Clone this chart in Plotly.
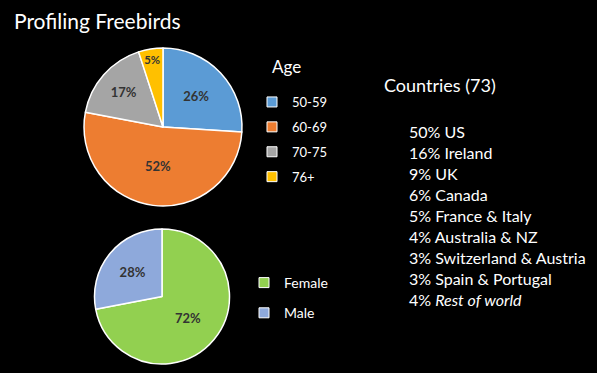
import plotly.graph_objects as go

W, H = 597, 373

age_labels = ["50-59", "60-69", "70-75", "76+"]
age_values = [26, 52, 17, 5]
age_colors = ["#5B9BD5", "#ED7D31", "#A5A5A5", "#FFC000"]

gender_labels = ["Female", "Male"]
gender_values = [72, 28]
gender_colors = ["#92D050", "#8EA9DB"]

country_pcts = [50, 16, 9, 6, 5, 4, 3, 3, 4]
country_names = ["US", "Ireland", "UK", "Canada", "France & Italy", "Australia & NZ",
                 "Switzerland & Austria", "Spain & Portugal", "<i>Rest of world</i>"]
country_count = 73

FONT = "Lato"

def px_x(x):
    return x / W

def px_y(y):
    return 1 - y / H

fig = go.Figure()

fig.add_trace(go.Pie(
    labels=age_labels, values=age_values, sort=False, direction="clockwise", rotation=0,
    marker=dict(colors=age_colors, line=dict(color="white", width=1.5)),
    text=[f"{v}%" for v in age_values], textinfo="text", textposition="inside",
    insidetextorientation="horizontal",
    textfont=dict(family=FONT, size=13, color="#333333", weight="bold"),
    domain=dict(x=[px_x(84), px_x(242)], y=[px_y(206), px_y(48)]),
    showlegend=False, hoverinfo="label+percent",
))

fig.add_trace(go.Pie(
    labels=gender_labels, values=gender_values, sort=False, direction="clockwise", rotation=0,
    marker=dict(colors=gender_colors, line=dict(color="white", width=1.5)),
    text=[f"{v}%" for v in gender_values], textinfo="text", textposition="inside",
    insidetextorientation="horizontal",
    textfont=dict(family=FONT, size=13, color="#333333", weight="bold"),
    domain=dict(x=[px_x(94), px_x(230)], y=[px_y(364), px_y(229)]),
    showlegend=False, hoverinfo="label+percent",
))

# legend entries
for i, (lab, col) in enumerate(zip(age_labels, age_colors)):
    fig.add_trace(go.Scatter(
        x=[None], y=[None], mode="markers", name=lab,
        marker=dict(symbol="square", size=10, color=col, line=dict(color="white", width=1)),
        legend="legend", legendgroup=f"a{i}", showlegend=True,
    ))
for i, (lab, col) in enumerate(zip(gender_labels, gender_colors)):
    fig.add_trace(go.Scatter(
        x=[None], y=[None], mode="markers", name=lab,
        marker=dict(symbol="square", size=10, color=col, line=dict(color="white", width=1)),
        legend="legend2", legendgroup=f"g{i}", showlegend=True,
    ))

annotations = [
    dict(text="Profiling Freebirds", x=px_x(12), y=px_y(20), xanchor="left", yanchor="middle",
         font=dict(family=FONT, size=21, color="white")),
    dict(text="Age", x=px_x(270), y=px_y(66), xanchor="left", yanchor="middle",
         font=dict(family=FONT, size=17, color="white")),
    dict(text=f"Countries ({country_count})", x=px_x(382), y=px_y(85), xanchor="left", yanchor="middle",
         font=dict(family=FONT, size=18, color="white")),
]
for i, (p, n) in enumerate(zip(country_pcts, country_names)):
    annotations.append(dict(text=f"{p}% {n}", x=px_x(407), y=px_y(131 + 21 * i),
                            xanchor="left", yanchor="middle",
                            font=dict(family=FONT, size=16, color="white")))
for a in annotations:
    a.update(xref="paper", yref="paper", showarrow=False)

fig.update_layout(
    width=W, height=H, margin=dict(l=0, r=0, t=0, b=0),
    paper_bgcolor="black", plot_bgcolor="black",
    xaxis=dict(visible=False), yaxis=dict(visible=False),
    annotations=annotations,
    legend=dict(x=px_x(252), y=px_y(87), xanchor="left", yanchor="top",
                bgcolor="rgba(0,0,0,0)", font=dict(family=FONT, size=13, color="white"),
                tracegroupgap=5, itemclick=False),
    legend2=dict(x=px_x(244), y=px_y(267), xanchor="left", yanchor="top",
                 bgcolor="rgba(0,0,0,0)", font=dict(family=FONT, size=14, color="white"),
                 tracegroupgap=9, itemclick=False),
    showlegend=True,
)

fig.write_html("out.html", config={"displayModeBar": False},
               post_script="document.body.style.margin='0';document.body.style.background='black';")
